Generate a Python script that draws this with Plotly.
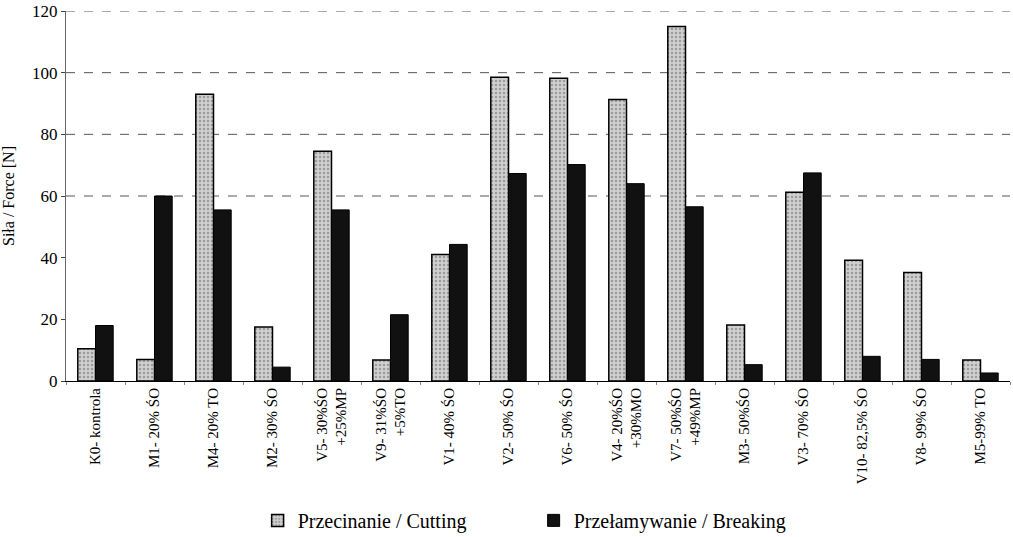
import plotly.graph_objects as go

categories = ["K0- kontrola", "M1- 20% ŚO", "M4- 20% TO", "M2- 30% ŚO",
              "V5- 30%ŚO<br>+25%MP", "V9- 31%ŚO<br>+5%TO", "V1- 40% ŚO", "V2- 50% ŚO",
              "V6- 50% ŚO", "V4- 20%ŚO<br>+30%MO", "V7- 50%ŚO<br>+49%MP", "M3- 50%ŚO",
              "V3- 70% ŚO", "V10- 82,5% ŚO", "V8- 99% ŚO", "M5-99% TO"]
cutting = [10.5, 7, 93, 17.5, 74.5, 6.8, 41, 98.5, 98.2, 91.3, 115, 18.2, 61.2, 39.2, 35.2, 6.8]
breaking = [18, 60, 55.5, 4.5, 55.5, 21.5, 44.3, 67.3, 70.2, 64, 56.5, 5.3, 67.5, 8, 7, 2.6]
grid_values = [60, 80, 100, 120]
y_ticks = [0, 20, 40, 60, 80, 100, 120]

font = "Liberation Serif"

fig = go.Figure()
fig.add_trace(go.Bar(
    x=categories, y=cutting, name="Przecinanie / Cutting",
    marker=dict(color="#cccccc", line=dict(color="black", width=1.5),
                pattern=dict(shape=".", fgcolor="#666666", bgcolor="#d0d0d0", size=4, solidity=0.3)),
))
fig.add_trace(go.Bar(
    x=categories, y=breaking, name="Przełamywanie / Breaking",
    marker=dict(color="#111111", line=dict(color="black", width=1)),
))

for g in grid_values:
    fig.add_shape(type="line", xref="paper", yref="y", x0=0, x1=1, y0=g, y1=g,
                  line=dict(color="#555555", width=1, dash="dash"), layer="below")

fig.update_layout(
    width=1013, height=537,
    margin=dict(l=66, r=3, t=11, b=156, autoexpand=False),
    paper_bgcolor="white", plot_bgcolor="white",
    barmode="group", bargap=0.4, bargroupgap=0,
    font=dict(family=font, size=15, color="black"),
    showlegend=True,
    legend=dict(orientation="h", x=0.203, xanchor="left", y=-0.324, yanchor="top",
                font=dict(family=font, size=20, color="black"), itemwidth=30,
                entrywidth=231, entrywidthmode="pixels", tracegroupgap=0),
    xaxis=dict(tickangle=-90, showline=True, linecolor="black", linewidth=1,
               ticks="outside", ticklen=3, tickcolor="#888888", tickson="boundaries",
               automargin=False, tickfont=dict(family=font, size=15, color="black")),
    yaxis=dict(range=[0, 120], tickvals=y_ticks, showgrid=False, zeroline=False,
               showline=True, linecolor="#666666", linewidth=1, automargin=False,
               title=dict(text="Siła / Force [N]", font=dict(family=font, size=16, color="black"), standoff=14),
               tickfont=dict(family=font, size=17, color="black"), ticks="outside", ticklen=4,
               ticklabeloverflow="allow"),
)

fig.write_html("out.html", config={"displayModeBar": False},
               post_script="document.body.style.margin='0';")
